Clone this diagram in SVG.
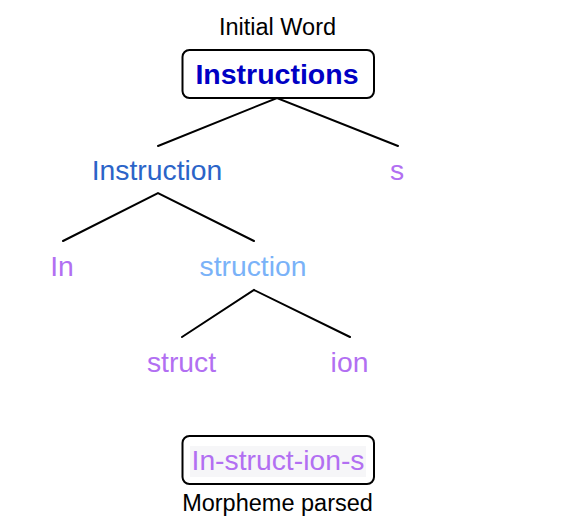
<svg xmlns="http://www.w3.org/2000/svg" width="572" height="530" viewBox="0 0 572 530">
<style>
text{font-family:"Liberation Sans",Arial,sans-serif;text-anchor:middle}
.cap{font-size:23.5px;fill:#000}
.n{font-size:28.3px}
.box{fill:#fff;stroke:#000;stroke-width:2}
.e{stroke:#000;stroke-width:2;fill:none;stroke-linecap:round}
.p{fill:#b26ff2}
</style>
<rect width="572" height="530" fill="#fff"/>
<g id="connectors">
<polyline class="e" points="158,146 277,98 398,146"/>
<polyline class="e" points="63,241 158,193 254,241"/>
<polyline class="e" points="182,337 254,290 350,337"/>
</g>
<g id="initial">
<text class="cap" x="277.5" y="35">Initial Word</text>
<rect class="box" x="182.5" y="50" width="191.5" height="48" rx="7"/>
<text x="277" y="84" style="font-size:28.5px;font-weight:bold;fill:#0000c4">Instructions</text>
</g>
<g id="instruction"><text class="n" x="157" y="180" fill="#2b64c8">Instruction</text></g>
<g id="s"><text class="n p" x="397" y="180">s</text></g>
<g id="in"><text class="n p" x="62" y="276">In</text></g>
<g id="struction"><text class="n" x="253" y="276" fill="#7ab2f8">struction</text></g>
<g id="struct"><text class="n p" x="181.5" y="372">struct</text></g>
<g id="ion"><text class="n p" x="349.5" y="372">ion</text></g>
<g id="parsed">
<rect class="box" x="182.5" y="436" width="191.5" height="48" rx="7"/>
<rect x="190" y="446" width="176" height="31" fill="#f6f6f8"/>
<text class="n p" x="278" y="470">In-struct-ion-s</text>
<text class="cap" x="277.5" y="511">Morpheme parsed</text>
</g>
</svg>
